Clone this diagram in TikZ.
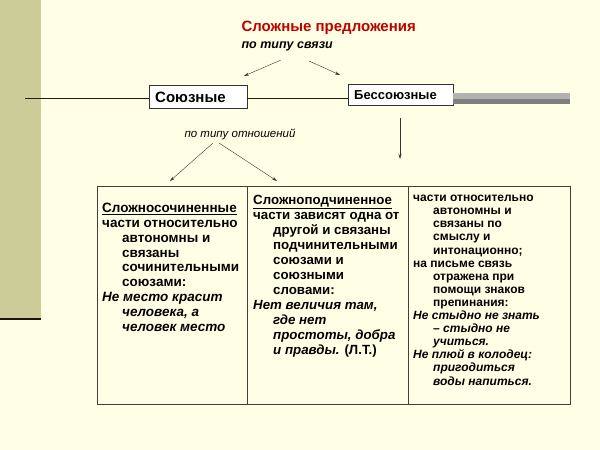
\documentclass[tikz,border=0pt]{standalone}
\usepackage{fontspec}
\setmainfont{Liberation Sans}
\usetikzlibrary{arrows.meta}

\definecolor{paper}{RGB}{255,255,229}
\definecolor{olive}{RGB}{204,204,153}
\definecolor{titlered}{RGB}{192,0,0}

\tikzset{
  kind/.style={draw=black!80, fill=white, inner xsep=6pt, font=\bfseries, anchor=west, text width=#1, align=left},
  column/.style={anchor=north west, align=left, inner sep=0pt, font=\bfseries},
  pointer/.style={-{Stealth[length=5pt,width=3pt]}, black!80}
}
\newcommand{\ind}{\hspace*{20pt}}

\begin{document}
\begin{tikzpicture}[x=1pt, y=-1pt]
    % Page and left band
    \fill[paper] (0,0) rectangle (600,450);
    \useasboundingbox (0,0) rectangle (600,450);
    \fill[olive] (0,0) rectangle (41,318);
    \draw[black!85!brown, line width=1.2pt] (0,319) -- (41,319);

    % Title
    \node[anchor=west, text=titlered, font=\bfseries\fontsize{15}{17}\selectfont] (title) at (238,28) {Сложные предложения};
    \node[anchor=west, font=\bfseries\itshape\fontsize{12.5}{14}\selectfont] (sub) at (238,46) {по типу связи};

    % Boxes on the line
    \node[kind=86pt, minimum height=23pt, font=\bfseries\fontsize{15}{17}\selectfont] (sojuz) at (149,97) {Союзные};
    \node[kind=93pt, minimum height=21pt, font=\bfseries\fontsize{13}{15}\selectfont] (bessojuz) at (348,95) {Бессоюзные};

    % Line through the boxes
    \coordinate (lstart) at (25,98);
    \coordinate (barend) at (570,98);
    \draw[black!80!brown, line width=0.8pt] (lstart) -- (lstart -| sojuz.west);
    \draw[black!80!brown, line width=0.8pt] (lstart -| sojuz.east) -- (lstart -| bessojuz.west);
    \fill[black!30] (bessojuz.east |- 0,93) rectangle (barend |- 0,104);
    \fill[black!50] (bessojuz.east |- 0,99) rectangle (barend |- 0,104);

    % Arrows from the title
    \coordinate (a1) at (281,60);
    \coordinate (a2) at (309,61);
    \coordinate (b1) at (244,76);
    \coordinate (b2) at (340,75);
    \draw[pointer] (a1) -- (b1);
    \draw[pointer] (a2) -- (b2);

    % Relations label and its arrows
    \node[font=\itshape\fontsize{11.5}{13}\selectfont] (rel) at (240,134) {по типу отношений};
    \coordinate (c1) at (170,181);
    \coordinate (c2) at (277,181);
    \draw[pointer] ([xshift=-27pt]rel.south) -- (c1);
    \draw[pointer] ([xshift=-21pt]rel.south) -- (c2);

    % Arrow under Бессоюзные
    \coordinate (d1) at (400,118);
    \coordinate (d2) at (400,159);
    \draw[pointer] (d1) -- (d2);

    % Table
    \draw[black!75, line width=0.9pt] (97,186) rectangle (570,404);
    \draw[black!75, line width=0.9pt] (247,186) -- (247,404);
    \draw[black!75, line width=0.9pt] (408,186) -- (408,404);

    % Column texts
    \node[column, font=\bfseries\fontsize{13.5}{14.8}\selectfont] (col1) at (102,203) {%
      \underline{Сложносочиненные}\\
      части относительно\\
      \ind автономны и\\
      \ind связаны\\
      \ind сочинительными\\
      \ind союзами:\\
      \textit{Не место красит}\\
      \ind\textit{человека, а}\\
      \ind\textit{человек место}};
    \node[column, font=\bfseries\fontsize{13.3}{15}\selectfont] (col2) at (253,195) {%
      \underline{Сложноподчиненное}\\
      части зависят одна от\\
      \ind другой и связаны\\
      \ind подчинительными\\
      \ind союзами и\\
      \ind союзными\\
      \ind словами:\\
      \textit{Нет величия там,}\\
      \ind\textit{где нет}\\
      \ind\textit{простоты, добра}\\
      \ind\textit{и правды.} (Л.Т.)};
    \node[column, font=\bfseries\fontsize{12}{13.1}\selectfont] (col3) at (413,195) {%
      части относительно\\
      \ind автономны и\\
      \ind связаны по\\
      \ind смыслу и\\
      \ind интонационно;\\
      на письме связь\\
      \ind отражена при\\
      \ind помощи знаков\\
      \ind препинания:\\
      \textit{Не стыдно не знать}\\
      \ind\textit{– стыдно не}\\
      \ind\textit{учиться.}\\
      \textit{Не плюй в колодец:}\\
      \ind\textit{пригодиться}\\
      \ind\textit{воды напиться.}};
\end{tikzpicture}
\end{document}
